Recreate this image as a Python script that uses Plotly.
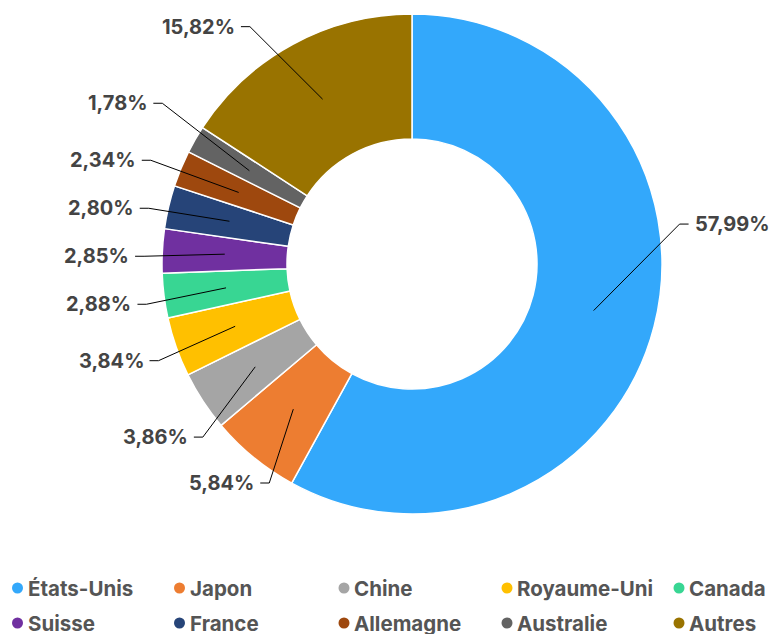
import math
import plotly.graph_objects as go

# ---- data ----
countries = ["États-Unis", "Japon", "Chine", "Royaume-Uni", "Canada",
             "Suisse", "France", "Allemagne", "Australie", "Autres"]
shares = [57.99, 5.84, 3.86, 3.84, 2.88, 2.85, 2.80, 2.34, 1.78, 15.82]
colors = ["#33a8fb", "#ed7d31", "#a5a5a5", "#ffc000", "#38d693",
          "#7030a0", "#264478", "#9e480e", "#636363", "#997300"]

# ---- layout constants (page pixels) ----
PAGE_W, PAGE_H = 778, 634
OFF = 8                               # default body margin of the html page
W, H = PAGE_W - OFF, PAGE_H - OFF     # figure size
CX, CY = 412, 264
R_OUT = 250
HOLE = 0.5
R_TICK = R_OUT * (1 + HOLE) / 2       # leader line start (middle of ring)
R_ELBOW_NAT = 270                     # natural label radius
RX_ELBOW, RY_ELBOW = 268, 298         # ellipse used to place elbow x
MIN_GAP = 48                          # min vertical spacing of labels
SEG = 9                               # horizontal leader segment
TXT_GAP = 4
LABEL_FONT = dict(family="Inter, Roboto, sans-serif", size=20, color="#444444", weight=700)
LEGEND_FONT = dict(family="Inter, Roboto, sans-serif", size=20.5, color="#555555", weight=700)
# layout nudges (outward dx, dy) of label rows in pixels, after de-overlap
label_nudge = {"États-Unis": (2, -107), "Japon": (-39, 10), "Chine": (-9, 25),
               "Royaume-Uni": (0, 7), "Allemagne": (10, 0), "Australie": (24, -9)}
LEG_COLS = [17.5, 179.5, 344, 507, 679]
LEG_ROWS = [588, 623]


def px(x):
    return (x - OFF) / W


def py(y):
    return 1 - (y - OFF) / H


def fmt(v):
    return f"{v:.2f}".replace(".", ",") + "%"


fig = go.Figure()
fig.add_trace(go.Pie(
    labels=countries, values=shares, sort=False, direction="clockwise", rotation=0,
    hole=HOLE, marker=dict(colors=colors, line=dict(color="white", width=1.5)),
    textinfo="none", showlegend=False, hoverinfo="label+percent",
    domain=dict(x=[px(CX - R_OUT), px(CX + R_OUT)], y=[py(CY + R_OUT), py(CY - R_OUT)]),
))

# ---- label placement computed from the data ----
total = sum(shares)
cum = 0.0
items = []
for name, v in zip(countries, shares):
    th = math.radians((cum + v / 2) / total * 360)
    cum += v
    side = 1 if math.sin(th) > 0 else -1
    items.append(dict(name=name, v=v, th=th, side=side,
                      y=CY - R_ELBOW_NAT * math.cos(th)))


def relax(lst):
    lst = sorted(lst, key=lambda d: d["y"])
    clusters = []
    for d in lst:
        clusters.append([d])
        while len(clusters) > 1:
            a, b = clusters[-2], clusters[-1]
            a_end = sum(x["y"] for x in a) / len(a) + MIN_GAP * (len(a) - 1) / 2
            b_start = sum(x["y"] for x in b) / len(b) - MIN_GAP * (len(b) - 1) / 2
            if b_start - a_end < MIN_GAP:
                clusters[-2] = a + b
                clusters.pop()
            else:
                break
    for c in clusters:
        m = sum(x["y"] for x in c) / len(c)
        for i, d in enumerate(c):
            d["ly"] = m + MIN_GAP * (i - (len(c) - 1) / 2)


relax([d for d in items if d["side"] < 0])
relax([d for d in items if d["side"] > 0])

shapes = []
annotations = []
for d in items:
    ndx, ndy = label_nudge.get(d["name"], (0, 0))
    ly = d["ly"] + ndy
    dy = ly - CY
    ex = CX + d["side"] * (RX_ELBOW * math.sqrt(max(1 - (dy / RY_ELBOW) ** 2, 0)) + ndx)
    sx = CX + R_TICK * math.sin(d["th"])
    sy = CY - R_TICK * math.cos(d["th"])
    hx = ex + d["side"] * SEG
    path = f"M {px(sx)} {py(sy)} L {px(ex)} {py(ly)} L {px(hx)} {py(ly)}"
    shapes.append(dict(type="path", path=path, xref="paper", yref="paper",
                       line=dict(color="black", width=1)))
    annotations.append(dict(
        x=px(hx + d["side"] * TXT_GAP), y=py(ly), xref="paper", yref="paper",
        text=fmt(d["v"]), showarrow=False, font=LABEL_FONT,
        xanchor="left" if d["side"] > 0 else "right", yanchor="middle"))

# ---- custom legend with round markers ----
for i, (name, col) in enumerate(zip(countries, colors)):
    cx = LEG_COLS[i % 5]
    cy = LEG_ROWS[i // 5]
    r = 5.5
    shapes.append(dict(type="circle", xref="paper", yref="paper",
                       x0=px(cx - r), x1=px(cx + r), y0=py(cy + r), y1=py(cy - r),
                       fillcolor=col, line=dict(width=0)))
    annotations.append(dict(x=px(cx + 8), y=py(cy), xref="paper", yref="paper",
                            text=name, showarrow=False, font=LEGEND_FONT,
                            xanchor="left", yanchor="middle"))

fig.update_layout(
    width=W, height=H, margin=dict(l=0, r=0, t=0, b=0),
    paper_bgcolor="white", plot_bgcolor="white",
    shapes=shapes, annotations=annotations, showlegend=False,
)
fig.write_html("out.html")
